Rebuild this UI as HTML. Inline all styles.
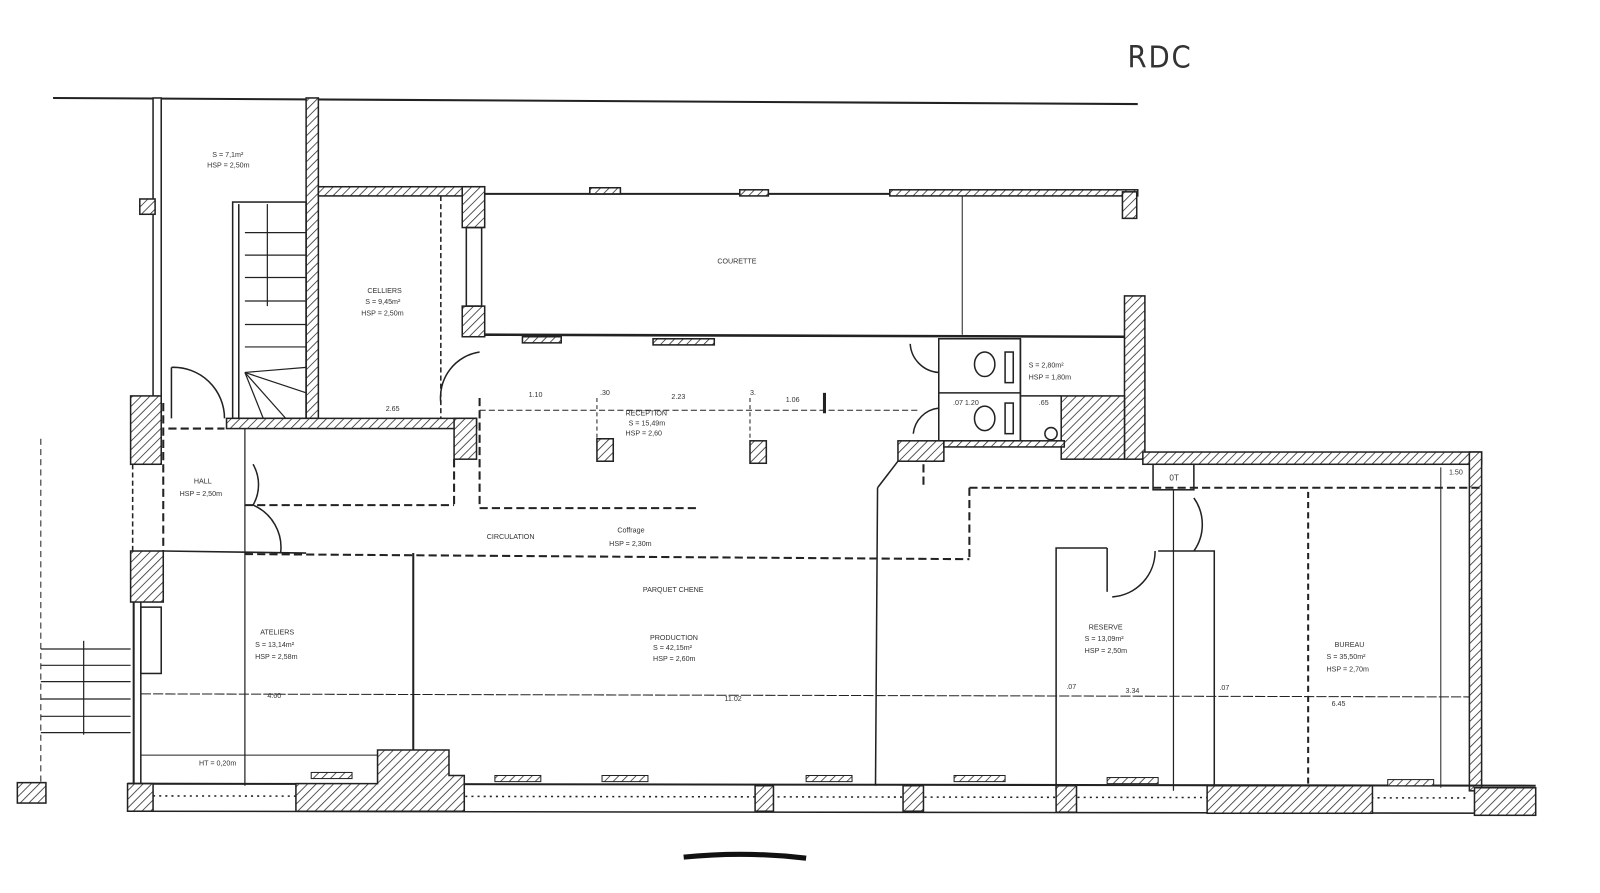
<!DOCTYPE html>
<html><head><meta charset="utf-8"><style>
html,body{margin:0;padding:0;background:#fff;}
svg{display:block;}
text{font-family:"Liberation Sans",sans-serif;fill:#333;}
</style></head><body>
<svg width="1600" height="893" viewBox="0 0 1600 893" xmlns="http://www.w3.org/2000/svg">
<defs>
<pattern id="h" width="6" height="6" patternUnits="userSpaceOnUse" patternTransform="rotate(45)">
<rect width="6" height="6" fill="#fff"/><line x1="0" y1="0" x2="0" y2="6" stroke="#333" stroke-width="1.6"/></pattern>
</defs>
<g transform="scale(1.0204)">
<g stroke="#222" fill="none" stroke-width="1.5">
<!-- RDC -->
<text x="1105" y="66" font-size="30" stroke="none" fill="#222" style="font-family:'DejaVu Sans',sans-serif;letter-spacing:2px" transform="translate(1105 0) scale(0.9 1) translate(-1105 0)">RDC</text>
<!-- top line -->
<line x1="52" y1="96" x2="1115" y2="102" stroke-width="2"/>
<!-- stair shaft walls -->
<rect x="150" y="96" width="8" height="314" fill="#fff"/>
<rect x="300" y="96" width="12" height="314" fill="url(#h)"/>
<rect x="137" y="195" width="15" height="15" fill="url(#h)"/>
<!-- stairs -->
<rect x="228" y="198" width="72" height="212"/>
<line x1="234" y1="200" x2="234" y2="410"/>
<g stroke-width="1.2">
<line x1="240" y1="228" x2="300" y2="228"/><line x1="240" y1="250" x2="300" y2="250"/>
<line x1="240" y1="272" x2="300" y2="272"/><line x1="240" y1="295" x2="300" y2="295"/>
<line x1="240" y1="318" x2="300" y2="318"/><line x1="240" y1="340" x2="300" y2="340"/>
<line x1="240" y1="365" x2="300" y2="360"/><line x1="240" y1="365" x2="300" y2="385"/>
<line x1="240" y1="365" x2="280" y2="410"/><line x1="240" y1="365" x2="258" y2="410"/>
<line x1="262" y1="200" x2="262" y2="300"/>
</g>
<!-- celliers -->
<rect x="312" y="183" width="163" height="9" fill="url(#h)"/>
<rect x="453" y="183" width="22" height="40" fill="url(#h)"/>
<rect x="453" y="300" width="22" height="30" fill="url(#h)"/>
<rect x="457" y="223" width="15" height="77"/>
<line x1="432" y1="192" x2="432" y2="410" stroke-dasharray="5,3"/>
<!-- corridor wall under stairs -->
<rect x="222" y="410" width="245" height="10" fill="url(#h)"/>
<rect x="445" y="410" width="22" height="40" fill="url(#h)"/>
<path d="M432 395 A45 45 0 0 1 470 345"/>
<!-- courette -->
<line x1="475" y1="190" x2="1115" y2="190" stroke-width="2"/>
<rect x="578" y="184" width="30" height="6" fill="url(#h)"/>
<rect x="725" y="186" width="28" height="6" fill="url(#h)"/>
<rect x="872" y="186" width="243" height="6" fill="url(#h)"/>
<rect x="1100" y="188" width="14" height="26" fill="url(#h)"/>
<line x1="943" y1="192" x2="943" y2="328" stroke-width="1"/>
<line x1="475" y1="328" x2="1102" y2="330" stroke-width="2.5"/>
<rect x="512" y="330" width="38" height="6" fill="url(#h)"/>
<rect x="640" y="332" width="60" height="6" fill="url(#h)"/>
<!-- right hatched wall -->
<rect x="1102" y="290" width="20" height="160" fill="url(#h)"/>
<!-- WC -->
<rect x="920" y="332" width="80" height="100"/>
<line x1="920" y1="385" x2="1000" y2="385"/>
<line x1="1000" y1="332" x2="1000" y2="432"/>
<rect x="1040" y="388" width="62" height="62" fill="url(#h)"/>
<line x1="1000" y1="388" x2="1040" y2="388"/>
<ellipse cx="965" cy="357" rx="10" ry="12"/><rect x="985" y="345" width="8" height="30"/>
<ellipse cx="965" cy="410" rx="10" ry="12"/><rect x="985" y="395" width="8" height="30"/>
<circle cx="1030" cy="425" r="6"/>
<rect x="880" y="432" width="45" height="20" fill="url(#h)"/>
<rect x="925" y="432" width="118" height="6" fill="url(#h)"/>
<path d="M920 365 A30 30 0 0 1 892 337"/><path d="M920 400 A28 28 0 0 0 895 425"/>
<!-- right building -->
<rect x="1120" y="443" width="332" height="12" fill="url(#h)"/>
<rect x="1440" y="443" width="12" height="332" fill="url(#h)"/>
<rect x="1130" y="455" width="40" height="25" fill="#fff"/>
<text x="1146" y="471" font-size="8" stroke="none">0T</text>
<path d="M1170 488 A45 45 0 0 1 1170 540" />
<path d="M1090 585 A45 45 0 0 0 1132 540"/>
<line x1="1150" y1="480" x2="1150" y2="775" stroke-width="1.2"/>
<!-- reserve -->
<path d="M1035 775 V537 H1085 M1135 540 H1190 V775"/>
<line x1="1085" y1="537" x2="1085" y2="580"/>
<line x1="1282" y1="482" x2="1282" y2="772" stroke-dasharray="6,4" stroke-width="2"/>
<line x1="1412" y1="458" x2="1412" y2="772" stroke-width="1"/>
<!-- dashed outlines -->
<g stroke-dasharray="8,4" stroke-width="2">
<line x1="240" y1="543" x2="950" y2="548"/>
<line x1="950" y1="478" x2="1450" y2="478"/>
<line x1="950" y1="478" x2="950" y2="548"/>
<line x1="470" y1="390" x2="470" y2="498"/>
<line x1="470" y1="498" x2="685" y2="498"/>
<line x1="240" y1="495" x2="445" y2="495"/>
<line x1="445" y1="450" x2="445" y2="495"/>
<line x1="905" y1="455" x2="905" y2="475" />
<line x1="160" y1="395" x2="160" y2="540"/>
<line x1="165" y1="420" x2="220" y2="420"/>
</g>
<line x1="860" y1="478" x2="858" y2="770" stroke-width="1.5"/>
<line x1="240" y1="420" x2="240" y2="770" stroke-width="1.2"/>
<line x1="405" y1="542" x2="405" y2="735" stroke-width="2"/>
<line x1="880" y1="452" x2="860" y2="478"/>
<!-- hall doors -->
<path d="M248 455 A40 40 0 0 1 248 495"/><path d="M248 495 A45 45 0 0 1 275 542"/>
<path d="M168 360 A50 50 0 0 1 220 410"/>
<line x1="168" y1="360" x2="168" y2="410"/>
<!-- left wall -->
<rect x="128" y="388" width="30" height="67" fill="url(#h)"/>
<rect x="128" y="540" width="32" height="50" fill="url(#h)"/>
<line x1="130" y1="455" x2="130" y2="540" stroke-dasharray="5,3"/>
<line x1="131" y1="590" x2="131" y2="775" stroke-width="2"/>
<line x1="138" y1="590" x2="138" y2="775"/>
<rect x="138" y="595" width="20" height="65"/>
<line x1="160" y1="540" x2="300" y2="542"/>
<!-- left steps -->
<line x1="40" y1="430" x2="40" y2="770" stroke-width="1" stroke-dasharray="6,4"/>
<g stroke-width="1.2"><line x1="40" y1="636" x2="128" y2="636"/><line x1="40" y1="652" x2="128" y2="652"/>
<line x1="40" y1="668" x2="128" y2="668"/><line x1="40" y1="685" x2="128" y2="685"/>
<line x1="40" y1="702" x2="128" y2="702"/><line x1="40" y1="718" x2="128" y2="718"/>
<line x1="82" y1="628" x2="82" y2="720"/></g>
<!-- dimension line -->
<line x1="138" y1="680" x2="1440" y2="683" stroke-width="1" stroke-dasharray="10,2"/>
<line x1="138" y1="740" x2="370" y2="740" stroke-width="1"/>
<line x1="370" y1="740" x2="370" y2="770" stroke-width="1"/>
<!-- bottom wall -->
<line x1="125" y1="768" x2="1505" y2="770" stroke-width="2"/>
<line x1="125" y1="795" x2="1505" y2="797" stroke-width="1.5"/>
<line x1="150" y1="780" x2="1440" y2="782" stroke-dasharray="2,4" stroke-width="1.5"/>
<rect x="125" y="768" width="25" height="27" fill="url(#h)"/>
<path d="M290 795 V768 H370 V735 H440 V760 H455 V795 Z" fill="url(#h)"/>
<rect x="740" y="770" width="18" height="25" fill="url(#h)"/>
<rect x="885" y="770" width="20" height="25" fill="url(#h)"/>
<rect x="1035" y="770" width="20" height="26" fill="url(#h)"/>
<rect x="1183" y="770" width="162" height="27" fill="url(#h)"/>
<rect x="1445" y="772" width="60" height="27" fill="url(#h)"/>
<rect x="17" y="767" width="28" height="20" fill="url(#h)"/>
<g fill="url(#h)" stroke-width="1">
<rect x="305" y="757" width="40" height="6"/><rect x="485" y="760" width="45" height="6"/>
<rect x="590" y="760" width="45" height="6"/><rect x="790" y="760" width="45" height="6"/>
<rect x="935" y="760" width="50" height="6"/><rect x="1085" y="762" width="50" height="6"/>
<rect x="1360" y="764" width="45" height="6"/></g>
<!-- columns -->
<rect x="585" y="430" width="16" height="22" fill="url(#h)"/>
<rect x="735" y="432" width="16" height="22" fill="url(#h)"/>
<line x1="585" y1="390" x2="585" y2="430" stroke-dasharray="4,3" stroke-width="1"/>
<line x1="735" y1="390" x2="735" y2="432" stroke-dasharray="4,3" stroke-width="1"/>
<line x1="470" y1="402" x2="900" y2="402" stroke-dasharray="6,3" stroke-width="1"/>
<line x1="808" y1="385" x2="808" y2="405" stroke-width="3"/>
<!-- scribble -->
<path d="M670 840 Q730 834 790 841" stroke-width="5" stroke="#111"/>
</g>
<g font-size="7" stroke="none">
<text x="208" y="154">S = 7,1m²</text><text x="203" y="164">HSP = 2,50m</text>
<text x="360" y="287">CELLIERS</text><text x="358" y="298">S = 9,45m²</text><text x="354" y="309">HSP = 2,50m</text>
<text x="703" y="258">COURETTE</text>
<text x="613" y="407">RECEPTION</text><text x="616" y="417">S = 15,49m</text><text x="613" y="427">HSP = 2,60</text>
<text x="190" y="474">HALL</text><text x="176" y="486">HSP = 2,50m</text>
<text x="477" y="528">CIRCULATION</text><text x="605" y="522">Coffrage</text><text x="597" y="535">HSP = 2,30m</text>
<text x="630" y="580">PARQUET CHENE</text>
<text x="637" y="627">PRODUCTION</text><text x="640" y="637">S = 42,15m²</text><text x="640" y="648">HSP = 2,60m</text>
<text x="255" y="622">ATELIERS</text><text x="250" y="634">S = 13,14m²</text><text x="250" y="646">HSP = 2,58m</text>
<text x="1067" y="617">RESERVE</text><text x="1063" y="628">S = 13,09m²</text><text x="1063" y="640">HSP = 2,50m</text>
<text x="1308" y="634">BUREAU</text><text x="1300" y="646">S = 35,50m²</text><text x="1300" y="658">HSP = 2,70m</text>
<text x="1008" y="360">S = 2,80m²</text><text x="1008" y="372">HSP = 1,80m</text>
<text x="195" y="750">HT = 0,20m</text>
<text x="262" y="684">4.60</text><text x="710" y="687">11.02</text><text x="1103" y="679">3.34</text><text x="1305" y="692">6.45</text>
<text x="518" y="389">1.10</text><text x="588" y="387">.30</text><text x="658" y="391">2.23</text><text x="735" y="387">3.</text><text x="770" y="394">1.06</text>
<text x="378" y="403">2.65</text><text x="1018" y="397">.65</text><text x="934" y="397">.07 1.20</text><text x="1420" y="465">1.50</text>
<text x="1045" y="675">.07</text><text x="1195" y="676">.07</text>
</g>
</g>
</svg>
</body></html>
